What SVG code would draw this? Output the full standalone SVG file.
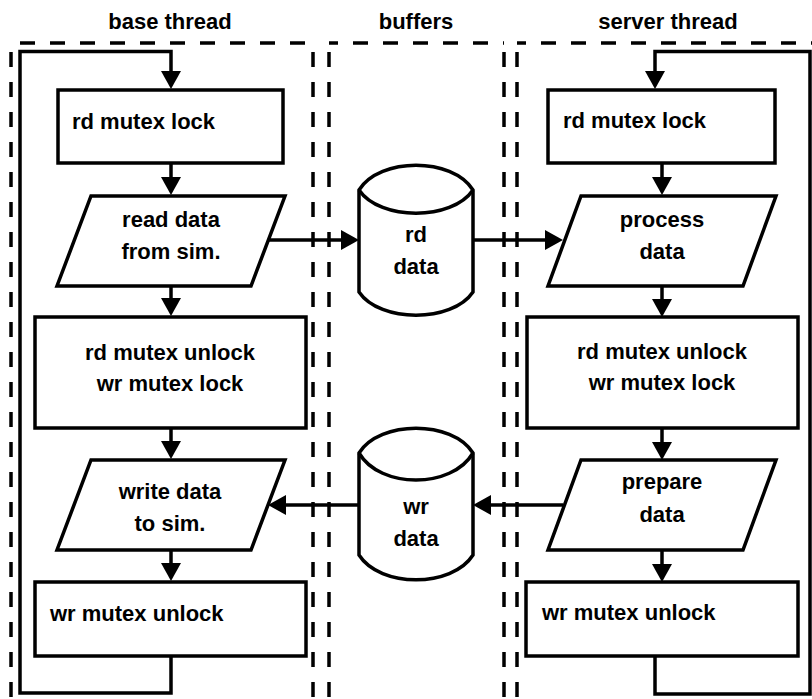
<svg xmlns="http://www.w3.org/2000/svg" width="812" height="699" viewBox="0 0 812 699">
<style>
.lane{fill:none;stroke:#000;stroke-width:3.5;stroke-dasharray:15 15}
.shape{fill:#fff;stroke:#000;stroke-width:3.5}
.conn{fill:none;stroke:#000;stroke-width:3.5}
text{font-family:"Liberation Sans",Arial,sans-serif;font-weight:bold;font-size:22px;fill:#000}
.c{text-anchor:middle}
</style>
<defs>
<marker id="ah" markerUnits="userSpaceOnUse" markerWidth="20" markerHeight="20" refX="10" refY="10" orient="auto">
<path d="M0,0 L18,10 L0,20 Z" fill="#000"/>
</marker>
</defs>
<rect width="812" height="699" fill="#fff"/>
<g id="lanes">
<line class="lane" x1="11" y1="43" x2="313" y2="43" stroke-dashoffset="21"/>
<line class="lane" x1="11" y1="43" x2="11" y2="699" stroke-dashoffset="21"/>
<line class="lane" x1="313" y1="43" x2="313" y2="699" stroke-dashoffset="21"/>
<line class="lane" x1="329" y1="43" x2="504" y2="43" stroke-dashoffset="6"/>
<line class="lane" x1="329" y1="43" x2="329" y2="699" stroke-dashoffset="21"/>
<line class="lane" x1="504" y1="43" x2="504" y2="699" stroke-dashoffset="21"/>
<line class="lane" x1="517" y1="43" x2="812" y2="43" stroke-dashoffset="6"/>
<line class="lane" x1="517" y1="43" x2="517" y2="699" stroke-dashoffset="21"/>
<text class="c" x="170" y="29">base thread</text>
<text class="c" x="416" y="29">buffers</text>
<text class="c" x="668" y="29">server thread</text>
</g>
<g id="connectors">
<path class="conn" d="M171,656 V693 H20 V51.5 H171 V81" marker-end="url(#ah)"/>
<line class="conn" x1="171" y1="163" x2="171" y2="187" marker-end="url(#ah)"/>
<line class="conn" x1="171" y1="286" x2="171" y2="308" marker-end="url(#ah)"/>
<line class="conn" x1="171" y1="428" x2="171" y2="451" marker-end="url(#ah)"/>
<line class="conn" x1="171" y1="550" x2="171" y2="573" marker-end="url(#ah)"/>
<path class="conn" d="M655,656 V694 H810 V51.5 H655 V81" marker-end="url(#ah)"/>
<line class="conn" x1="662" y1="163" x2="662" y2="187" marker-end="url(#ah)"/>
<line class="conn" x1="662" y1="286" x2="662" y2="309" marker-end="url(#ah)"/>
<line class="conn" x1="662" y1="428" x2="662" y2="452" marker-end="url(#ah)"/>
<line class="conn" x1="662" y1="550" x2="662" y2="574" marker-end="url(#ah)"/>
<line class="conn" x1="268" y1="240" x2="351" y2="240" marker-end="url(#ah)"/>
<line class="conn" x1="473" y1="240" x2="555" y2="240" marker-end="url(#ah)"/>
<line class="conn" x1="563" y1="505" x2="481" y2="505" marker-end="url(#ah)"/>
<line class="conn" x1="359" y1="505" x2="276" y2="505" marker-end="url(#ah)"/>
</g>
<g id="base-rd-lock">
<rect class="shape" x="58" y="90" width="225" height="73"/>
<text x="72" y="129">rd mutex lock</text>
</g>
<g id="base-read">
<polygon class="shape" points="91,196 285,196 251,286 57,286"/>
<text class="c" x="171" y="227">read data</text>
<text class="c" x="171" y="259">from sim.</text>
</g>
<g id="base-unlock-lock">
<rect class="shape" x="35" y="317" width="271" height="111"/>
<text class="c" x="170" y="360">rd mutex unlock</text>
<text class="c" x="170" y="391">wr mutex lock</text>
</g>
<g id="base-write">
<polygon class="shape" points="91,460 285,460 251,550 57,550"/>
<text class="c" x="170" y="499">write data</text>
<text class="c" x="170" y="531">to sim.</text>
</g>
<g id="base-wr-unlock">
<rect class="shape" x="35" y="582" width="271" height="74"/>
<text x="50" y="621">wr mutex unlock</text>
</g>
<g id="rd-data">
<path class="shape" d="M359,190 C380,157 452,157 473,190 V292 C452,323 380,323 359,292 Z"/>
<path class="conn" d="M359,190 C380,221 452,221 473,190"/>
<text class="c" x="416" y="242">rd</text>
<text class="c" x="416" y="274">data</text>
</g>
<g id="wr-data">
<path class="shape" d="M359,453 C380,420 452,420 473,453 V555 C452,588 380,588 359,555 Z"/>
<path class="conn" d="M359,453 C380,489 452,489 473,453"/>
<text class="c" x="416" y="514">wr</text>
<text class="c" x="416" y="546">data</text>
</g>
<g id="server-rd-lock">
<rect class="shape" x="548" y="90" width="227" height="73"/>
<text x="563" y="128">rd mutex lock</text>
</g>
<g id="server-process">
<polygon class="shape" points="581,196 776,196 743,286 548,286"/>
<text class="c" x="662" y="227">process</text>
<text class="c" x="662" y="259">data</text>
</g>
<g id="server-unlock-lock">
<rect class="shape" x="527" y="317" width="271" height="111"/>
<text class="c" x="662" y="359">rd mutex unlock</text>
<text class="c" x="662" y="390">wr mutex lock</text>
</g>
<g id="server-prepare">
<polygon class="shape" points="581,460 776,460 743,550 548,550"/>
<text class="c" x="662" y="489">prepare</text>
<text class="c" x="662" y="522">data</text>
</g>
<g id="server-wr-unlock">
<rect class="shape" x="526" y="582" width="272" height="74"/>
<text x="542" y="620">wr mutex unlock</text>
</g>
</svg>
